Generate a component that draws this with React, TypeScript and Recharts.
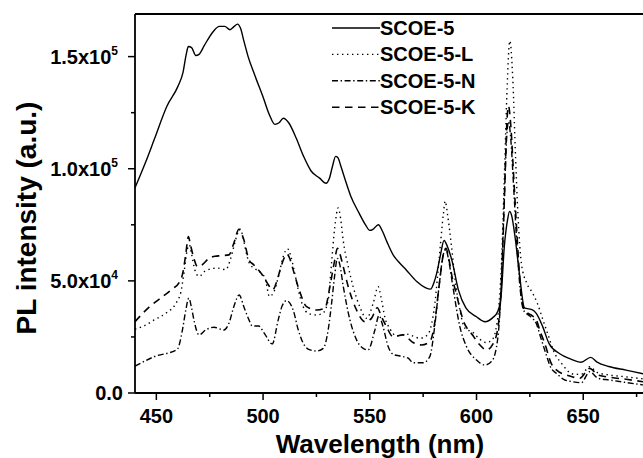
import React from 'react';
import { LineChart, Line, XAxis, YAxis, ReferenceLine, Legend } from 'recharts';

// ---- data (intensity in units of 10^3 a.u.) ----
const wlS5 = [440, 445, 449, 455, 460, 462.5, 464, 465, 466.5, 468.5, 470, 472.5, 476.5, 479.5, 482, 484.5, 486.5, 488, 489.5, 491, 493, 496, 500, 503, 505.5, 507.5, 509.5, 512, 515.5, 519, 522.5, 526.5, 529.5, 531, 532.5, 534, 535, 536.5, 538.5, 541, 545, 548, 550, 551.5, 554, 556, 558, 561, 564, 567, 572, 576, 578.5, 580, 581.5, 583, 584.8, 586.5, 588.5, 591.5, 595, 600, 604, 607.5, 610, 611.5, 613, 614.5, 615.5, 616.5, 618, 620, 622.5, 624.5, 626, 628, 631, 634, 639, 644, 649, 653.5, 656.5, 662, 670, 678];
const valS5 = [91.5, 103, 113, 128, 136.5, 143, 151, 154.5, 154, 150.5, 151, 155, 161, 163.5, 163.5, 162, 163.5, 164.5, 162.5, 157, 150, 142, 132, 124, 119.8, 120.5, 122.5, 120.5, 113.7, 105.5, 99, 95.8, 93.5, 95.5, 101, 105.5, 105, 101, 95, 88, 80.2, 75, 72.5, 73, 75, 72, 67.5, 61.5, 58, 55, 49.7, 47, 46.3, 49, 54, 61, 68, 65, 59, 46, 38, 34, 31.8, 33.5, 36.5, 43, 65, 77, 81, 79, 70, 54, 38, 37.5, 37.2, 35.5, 29.6, 22, 17.5, 15.2, 13.7, 15.9, 13.8, 11.8, 10.2, 8.6];

const wlS5L = [440, 444, 449, 454.5, 459.5, 461.5, 463, 464.5, 465.5, 466.5, 468, 470, 473, 478.5, 482.5, 484.5, 486.5, 488, 489.3, 490.5, 491.5, 493.5, 496, 498.5, 501, 503, 505, 507.5, 509.5, 511.5, 513, 514.5, 516.5, 518.8, 521, 525, 528, 530.5, 532, 533.6, 535.2, 536.3, 537.5, 540, 542.2, 545.3, 548.5, 551.6, 553.9, 555.5, 557, 559.5, 562.5, 567, 570, 573.4, 576.5, 578.5, 580.5, 582.5, 584.5, 585.3, 586.5, 588.3, 589.8, 592.2, 594.5, 598.4, 601.5, 604.7, 607.5, 609, 610.3, 611.7, 613, 614.3, 615.6, 617, 618.3, 619.4, 621, 623.5, 626, 628.5, 631, 633.5, 636, 640, 645, 649, 653, 656.5, 662.4, 670, 678];
const valS5L = [28.5, 29.8, 32.6, 35.6, 40.5, 45, 54, 64, 66, 62, 55, 52, 54.5, 55.7, 55, 59, 66, 71, 73, 70, 65.3, 58, 55.5, 54, 51, 43, 45, 53, 61, 64.3, 61, 55, 46, 38.5, 35.6, 34.8, 35.6, 41.5, 57, 74, 82.5, 78, 68.3, 56, 47.4, 38.5, 33.3, 40, 47.4, 41.5, 34, 28.5, 25.5, 26.3, 25.5, 24.4, 25.5, 29, 40, 60, 80, 85.5, 79, 65.3, 51.9, 37, 29, 27, 24, 22.5, 24, 28, 37, 58, 95, 135, 157, 140, 105, 80, 58, 49, 45, 40, 33, 26, 19, 13, 8.5, 8.3, 11.7, 9.2, 8, 7.2, 6.3];

const wlS5N = [440, 449, 459.8, 462.2, 463.8, 465.2, 466.5, 467.6, 470, 473.1, 477, 481.7, 484, 486.3, 488.8, 491, 493.4, 494.9, 498, 499.6, 501, 504.3, 507.1, 509, 511, 514.1, 516.5, 518.8, 522, 525.1, 528.2, 530.5, 532.1, 533.5, 534.8, 536, 537.5, 540.7, 543.8, 546.9, 549.2, 552.4, 554.3, 556.2, 558.6, 561, 564.1, 568, 570.3, 575, 578.1, 580.4, 582.5, 584.5, 585.7, 587, 589, 592.2, 595.3, 600, 603.9, 607, 609.4, 611.2, 612.8, 614.2, 615, 616, 617.5, 619, 620.5, 622, 624, 626, 628, 630, 632, 635, 637.4, 641, 645.2, 649.1, 653, 656.9, 662.4, 670, 678];
const valS5N = [12, 16.2, 19.5, 28, 37, 42.3, 38, 32.6, 25.9, 28.1, 29.3, 28.1, 31.1, 38.5, 43.7, 38.5, 32.6, 29.9, 29.9, 28.1, 26, 21.9, 32.6, 39, 41.2, 37, 28.1, 22.2, 19.2, 18.7, 19.9, 28.1, 40, 52, 60, 57, 48, 32.6, 23.7, 19.9, 19.2, 28.1, 34.5, 29.6, 20.7, 17.2, 16.5, 15.5, 13.5, 13.5, 16.2, 29.6, 48, 62, 64, 59, 47, 29.6, 20.7, 14.7, 12.5, 14, 20.7, 40, 80, 115, 121, 114, 90, 65, 46, 37, 35, 33.5, 31, 25, 19, 11, 8.8, 6, 5, 4.6, 9.5, 6.6, 5.8, 4.7, 3.6];

const wlS5K = [440, 446.5, 452, 457.5, 460.5, 462.5, 463.8, 465, 466, 467.6, 469.2, 471.5, 474.6, 477.5, 480, 484, 486.3, 488.7, 490, 491, 493.4, 495.7, 499.6, 502, 504.5, 506.5, 508, 510.2, 511.2, 512.5, 514.1, 517.2, 520.4, 525.1, 529, 531.3, 533.6, 534.8, 536, 537, 539.9, 543.8, 547.7, 550.8, 553.5, 555.5, 557.8, 560.9, 565.6, 570.3, 574.2, 578.1, 580.4, 582.5, 584.5, 585.7, 587, 588.5, 590.6, 593.7, 598.4, 601.5, 604.7, 607.8, 610.1, 611.7, 613, 614.3, 615, 616, 617.5, 619, 620.5, 622, 624, 626, 628, 630, 632, 635, 637.4, 643.7, 648.4, 653, 656.9, 662.4, 670.2, 678];
const valS5K = [31.8, 38.2, 42.3, 46.4, 49, 54, 62, 69.8, 66, 60, 56.4, 57.2, 60, 61, 61.2, 61.6, 66.8, 73, 71, 68.3, 59.4, 57.1, 52.7, 49, 46, 50, 55, 60.8, 62, 60, 54.9, 45.2, 38.5, 37, 37.8, 47.4, 59.4, 64.5, 62, 58.5, 47.4, 37, 31.8, 33.3, 38, 34, 29.6, 25.1, 25.9, 22.5, 21.4, 22.9, 31.1, 48, 62, 64.5, 60, 52, 44, 32.6, 25.5, 21.5, 19.2, 22, 29.6, 50, 85, 122, 128, 120, 95, 70, 48, 38, 35.6, 34.5, 32.6, 27, 22, 13.2, 10.3, 7.6, 6.6, 11, 8, 7, 6.1, 5];

const seriesNames = ['SCOE-5', 'SCOE-5-L', 'SCOE-5-N', 'SCOE-5-K'];

const xTickValues = [450, 475, 500, 525, 550, 575, 600, 625, 650, 675];
const xTickText = ['450', '', '500', '', '550', '', '600', '', '650', ''];
const yTickValues = [0, 25, 50, 75, 100, 125, 150];
const yTickBase = ['0.0', '', '5.0x10', '', '1.0x10', '', '1.5x10'];
const yTickExp = ['', '', '4', '', '5', '', '5'];

const xTitle = 'Wavelength (nm)';
const yTitle = 'PL intensity (a.u.)';

// ---- build tables ----
const toRows = (xs: number[], ys: number[]) => xs.map((x, i) => ({ x, y: ys[i] }));
const dS5 = toRows(wlS5, valS5);
const dS5L = toRows(wlS5L, valS5L);
const dS5N = toRows(wlS5N, valS5N);
const dS5K = toRows(wlS5K, valS5K);

const FONT = '"Liberation Sans", Arial, Helvetica, sans-serif';

const styles = [
  { dash: undefined as string | undefined, width: 1.4 },
  { dash: '1.4 3.6', width: 1.4 },
  { dash: '6 2.6 1.4 2.6', width: 1.4 },
  { dash: '7.5 5.5', width: 1.6 },
];

const XTick = (props: any) => {
  const { x, y, payload } = props;
  const i = xTickValues.indexOf(payload.value);
  const label = i >= 0 ? xTickText[i] : '';
  const major = label !== '';
  return (
    <g>
      <line x1={x} x2={x} y1={y} y2={y + (major ? 7 : 4)} stroke="#000" strokeWidth={1.5} />
      {major && (
        <text x={x} y={y + 30} textAnchor="middle" fontFamily={FONT} fontWeight="bold" fontSize={20} fill="#000">
          {label}
        </text>
      )}
    </g>
  );
};

const YTick = (props: any) => {
  const { x, y, payload } = props;
  const i = yTickValues.indexOf(payload.value);
  const base = i >= 0 ? yTickBase[i] : '';
  const exp = i >= 0 ? yTickExp[i] : '';
  const major = base !== '';
  return (
    <g>
      <line x1={x} x2={x - (major ? 7 : 4)} y1={y} y2={y} stroke="#000" strokeWidth={1.5} />
      {major && (
        <text x={exp ? x - 17 : x - 12} y={y + 7} textAnchor="end" fontFamily={FONT} fontWeight="bold" fontSize={20} fill="#000">
          {base}
          {exp && (
            <tspan dy={-9} fontSize={12}>
              {exp}
            </tspan>
          )}
        </text>
      )}
    </g>
  );
};

const LegendBox = () => (
  <svg width={220} height={110} style={{ display: 'block', overflow: 'visible' }}>
    {seriesNames.map((n, i) => {
      const cy = 14 + i * 26.4;
      return (
        <g key={n}>
          <line x1={2} x2={50} y1={cy} y2={cy} stroke="#000" strokeWidth={styles[i].width} strokeDasharray={styles[i].dash} />
          <text x={50} y={cy + 7} fontFamily={FONT} fontWeight="bold" fontSize={20} fill="#000">
            {n}
          </text>
        </g>
      );
    })}
  </svg>
);

export default function App() {
  return (
    <div style={{ position: 'absolute', left: 0, top: 0, width: 643, height: 458, background: '#fff' }}>
      <LineChart width={643} height={458} margin={{ top: 14, right: 0, bottom: 0, left: 0 }}>
        <XAxis
          dataKey="x"
          type="number"
          domain={[440, 678]}
          allowDataOverflow
          ticks={xTickValues}
          interval={0}
          height={65}
          tickSize={0}
          tickMargin={0}
          tickLine={false}
          tick={<XTick />}
          axisLine={{ stroke: '#000', strokeWidth: 1.8 }}
          label={() => (
            <text x={380} y={453} textAnchor="middle" fontFamily={FONT} fontWeight="bold" fontSize={26} fill="#000">
              {xTitle}
            </text>
          )}
        />
        <YAxis
          type="number"
          domain={[0, 169]}
          allowDataOverflow
          ticks={yTickValues}
          interval={0}
          width={135}
          tickSize={0}
          tickMargin={0}
          tickLine={false}
          tick={<YTick />}
          axisLine={{ stroke: '#000', strokeWidth: 1.8 }}
          label={() => (
            <text x={36} y={218} transform="rotate(-90, 36, 218)" textAnchor="middle" fontFamily={FONT} fontWeight="bold" fontSize={28} fill="#000">
              {yTitle}
            </text>
          )}
        />
        <ReferenceLine y={169} stroke="#000" strokeWidth={1.8} />
        <Legend
          layout="vertical"
          align="center"
          verticalAlign="middle"
          content={() => <LegendBox />}
          wrapperStyle={{ position: 'absolute', left: 330, top: 14, width: 220, height: 110 }}
        />
        <Line data={dS5} dataKey="y" name={seriesNames[0]} type="monotone" stroke="#000" strokeWidth={styles[0].width} dot={false} isAnimationActive={false} />
        <Line data={dS5L} dataKey="y" name={seriesNames[1]} type="monotone" stroke="#000" strokeWidth={styles[1].width} strokeDasharray={styles[1].dash} dot={false} isAnimationActive={false} />
        <Line data={dS5N} dataKey="y" name={seriesNames[2]} type="monotone" stroke="#000" strokeWidth={styles[2].width} strokeDasharray={styles[2].dash} dot={false} isAnimationActive={false} />
        <Line data={dS5K} dataKey="y" name={seriesNames[3]} type="monotone" stroke="#000" strokeWidth={styles[3].width} strokeDasharray={styles[3].dash} dot={false} isAnimationActive={false} />
      </LineChart>
    </div>
  );
}
